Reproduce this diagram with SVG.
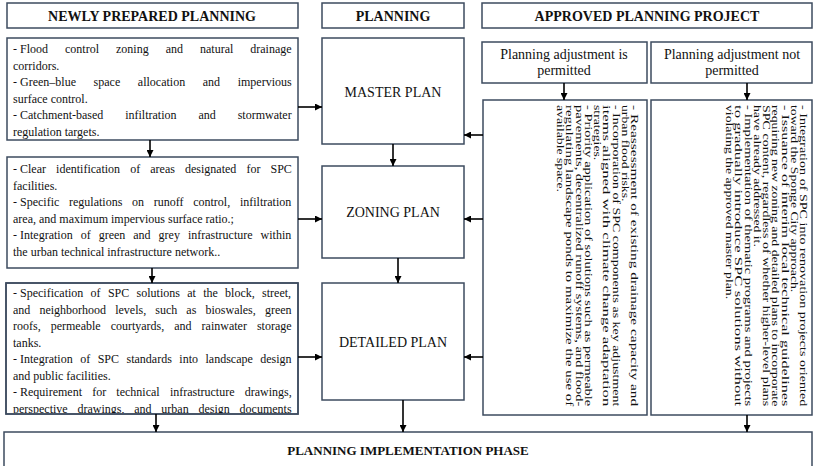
<svg xmlns="http://www.w3.org/2000/svg" width="817" height="466" viewBox="0 0 817 466">
<style>
.box{fill:#fff;stroke:#3d4b5f;stroke-width:1.5}
.hd{font-family:"Liberation Serif","Times New Roman",serif;font-weight:bold;font-size:14px;fill:#111;text-anchor:middle}
.pl{font-family:"Liberation Serif","Times New Roman",serif;font-size:14px;fill:#111;text-anchor:middle}
.sub{font-family:"Liberation Serif","Times New Roman",serif;font-size:14px;fill:#111;text-anchor:middle}
.tx{font-family:"Liberation Serif","Times New Roman",serif;font-size:12px;fill:#111}
.rt{font-family:"Liberation Serif","Times New Roman",serif;font-size:11px;fill:#111}
.cn{stroke:#000;stroke-width:1.6;fill:none;marker-end:url(#ah)}
</style>
<defs>
<marker id="ah" viewBox="0 0 10 10" refX="10" refY="5" markerWidth="7" markerHeight="7" markerUnits="userSpaceOnUse" orient="auto">
<path d="M0,0 L10,5 L0,10 z" fill="#000"/>
</marker>
<clipPath id="c3"><rect x="0" y="282" width="300" height="131"/></clipPath>
</defs>
<rect width="817" height="466" fill="#fff"/>

<g id="hdr-new"><rect class="box" x="7" y="3" width="291" height="25"/><text class="hd" x="152" y="20.5">NEWLY PREPARED PLANNING</text></g>
<g id="hdr-plan"><rect class="box" x="322" y="3" width="142" height="25"/><text class="hd" x="393" y="20.5">PLANNING</text></g>
<g id="hdr-approved"><rect class="box" x="482" y="3" width="330" height="25"/><text class="hd" x="647" y="20.5">APPROVED PLANNING PROJECT</text></g>

<g id="left1"><rect class="box" x="7" y="38" width="291" height="102"/>
<text class="tx" x="13" y="53">- <tspan style="word-spacing:14px">Flood control zoning and natural drainage</tspan></text>
<text class="tx" x="13" y="69.5">corridors.</text>
<text class="tx" x="13" y="86">- <tspan style="word-spacing:14.6px">Green–blue space allocation and impervious</tspan></text>
<text class="tx" x="13" y="102.5">surface control.</text>
<text class="tx" x="13" y="119">- <tspan style="word-spacing:18.9px">Catchment-based infiltration and stormwater</tspan></text>
<text class="tx" x="13" y="135.5">regulation targets.</text>
</g>

<g id="left2"><rect class="box" x="7" y="157" width="291" height="111"/>
<text class="tx" x="13" y="173">- <tspan style="word-spacing:7.1px">Clear identification of areas designated for SPC</tspan></text>
<text class="tx" x="13" y="189.5">facilities.</text>
<text class="tx" x="13" y="206">- <tspan style="word-spacing:6.7px">Specific regulations on runoff control, infiltration</tspan></text>
<text class="tx" x="13" y="222.5">area, and maximum impervious surface ratio.;</text>
<text class="tx" x="13" y="239">- <tspan style="word-spacing:5px">Integration of green and grey infrastructure within</tspan></text>
<text class="tx" x="13" y="255.5">the urban technical infrastructure network..</text>
</g>

<g id="left3"><rect class="box" x="6" y="283" width="292" height="131"/>
<g clip-path="url(#c3)">
<text class="tx" x="13" y="297">- <tspan style="word-spacing:4.3px">Specification of SPC solutions at the block, street,</tspan></text>
<text class="tx" x="13" y="313.5" style="word-spacing:6.1px">and neighborhood levels, such as bioswales, green</text>
<text class="tx" x="13" y="330" style="word-spacing:7px">roofs, permeable courtyards, and rainwater storage</text>
<text class="tx" x="13" y="346.5">tanks.</text>
<text class="tx" x="13" y="363">- <tspan style="word-spacing:4.5px">Integration of SPC standards into landscape design</tspan></text>
<text class="tx" x="13" y="379.5">and public facilities.</text>
<text class="tx" x="13" y="396">- <tspan style="word-spacing:7.2px">Requirement for technical infrastructure drawings,</tspan></text>
<text class="tx" x="13" y="412.5" style="word-spacing:6.8px">perspective drawings, and urban design documents</text>
</g>
<rect x="6" y="283" width="292" height="131" fill="none" stroke="#3d4b5f" stroke-width="1.5"/>
</g>

<g id="master"><rect class="box" x="322" y="38" width="142" height="106"/><text class="pl" x="393" y="97">MASTER PLAN</text></g>
<g id="zoning"><rect class="box" x="322" y="166" width="142" height="92"/><text class="pl" x="393" y="217">ZONING PLAN</text></g>
<g id="detailed"><rect class="box" x="322" y="283" width="142" height="117"/><text class="pl" x="393" y="347">DETAILED PLAN</text></g>

<g id="sub-permitted"><rect class="box" x="482" y="42" width="165" height="41"/>
<text class="sub" x="564" y="59">Planning adjustment is</text><text class="sub" x="564" y="75">permitted</text></g>
<g id="sub-notpermitted"><rect class="box" x="651" y="42" width="161" height="41"/>
<text class="sub" x="732" y="59">Planning adjustment not</text><text class="sub" x="732" y="75">permitted</text></g>

<g id="right1"><rect class="box" x="483" y="100" width="164" height="315"/>
<g transform="translate(631,105) rotate(90) scale(1.25,1)">
<text class="rt" x="0" y="0" textLength="241" lengthAdjust="spacingAndGlyphs">- Reassessment of existing drainage capacity and</text>
<text class="rt" x="0" y="9.25">urban flood risks.</text>
<text class="rt" x="0" y="18.5" textLength="241" lengthAdjust="spacingAndGlyphs">- Incorporation of SPC components as key adjustment</text>
<text class="rt" x="0" y="27.75" textLength="241" lengthAdjust="spacingAndGlyphs">items aligned with climate change adaptation</text>
<text class="rt" x="0" y="37">strategies.</text>
<text class="rt" x="0" y="46.25" textLength="241" lengthAdjust="spacingAndGlyphs">- Priority application of solutions such as permeable</text>
<text class="rt" x="0" y="55.5" textLength="241" lengthAdjust="spacingAndGlyphs">pavements, decentralized runoff systems, and flood-</text>
<text class="rt" x="0" y="64.75" textLength="241" lengthAdjust="spacingAndGlyphs">regulating landscape ponds to maximize the use of</text>
<text class="rt" x="0" y="74">available space.</text>
</g></g>

<g id="right2"><rect class="box" x="651" y="100" width="161" height="315"/>
<g transform="translate(800,105) rotate(90) scale(1.25,1)">
<text class="rt" x="0" y="0" textLength="241" lengthAdjust="spacingAndGlyphs">- Integration of SPC into renovation projects oriented</text>
<text class="rt" x="0" y="9.25">toward the Sponge City approach.</text>
<text class="rt" x="0" y="18.5" textLength="241" lengthAdjust="spacingAndGlyphs">- Issuance of interim local technical guidelines</text>
<text class="rt" x="0" y="27.75" textLength="241" lengthAdjust="spacingAndGlyphs">requiring new zoning and detailed plans to incorporate</text>
<text class="rt" x="0" y="37" textLength="241" lengthAdjust="spacingAndGlyphs">SPC content, regardless of whether higher-level plans</text>
<text class="rt" x="0" y="46.25">have already addressed it.</text>
<text class="rt" x="0" y="55.5" textLength="241" lengthAdjust="spacingAndGlyphs">- Implementation of thematic programs and projects</text>
<text class="rt" x="0" y="64.75" textLength="241" lengthAdjust="spacingAndGlyphs">to gradually introduce SPC solutions without</text>
<text class="rt" x="0" y="74">violating the approved master plan.</text>
</g></g>

<g id="implementation"><rect class="box" x="4" y="432" width="808" height="40"/>
<text class="hd" x="408" y="455" style="font-size:13px">PLANNING IMPLEMENTATION PHASE</text></g>

<g id="connectors">
<line class="cn" x1="150" y1="140" x2="150" y2="157"/>
<line class="cn" x1="152" y1="268" x2="152" y2="283"/>
<line class="cn" x1="156" y1="414" x2="156" y2="432"/>
<line class="cn" x1="393" y1="144" x2="393" y2="166"/>
<line class="cn" x1="398" y1="258" x2="398" y2="283"/>
<line class="cn" x1="403" y1="400" x2="403" y2="432"/>
<line class="cn" x1="298" y1="107" x2="322" y2="107"/>
<line class="cn" x1="298" y1="219" x2="322" y2="219"/>
<line class="cn" x1="298" y1="357" x2="322" y2="357"/>
<line class="cn" x1="483" y1="135" x2="464" y2="135"/>
<line class="cn" x1="483" y1="219" x2="464" y2="219"/>
<line class="cn" x1="483" y1="357" x2="464" y2="357"/>
<line class="cn" x1="564" y1="83" x2="564" y2="100"/>
<line class="cn" x1="747" y1="83" x2="747" y2="100"/>
<line class="cn" x1="747" y1="415" x2="747" y2="432"/>
</g>
</svg>
